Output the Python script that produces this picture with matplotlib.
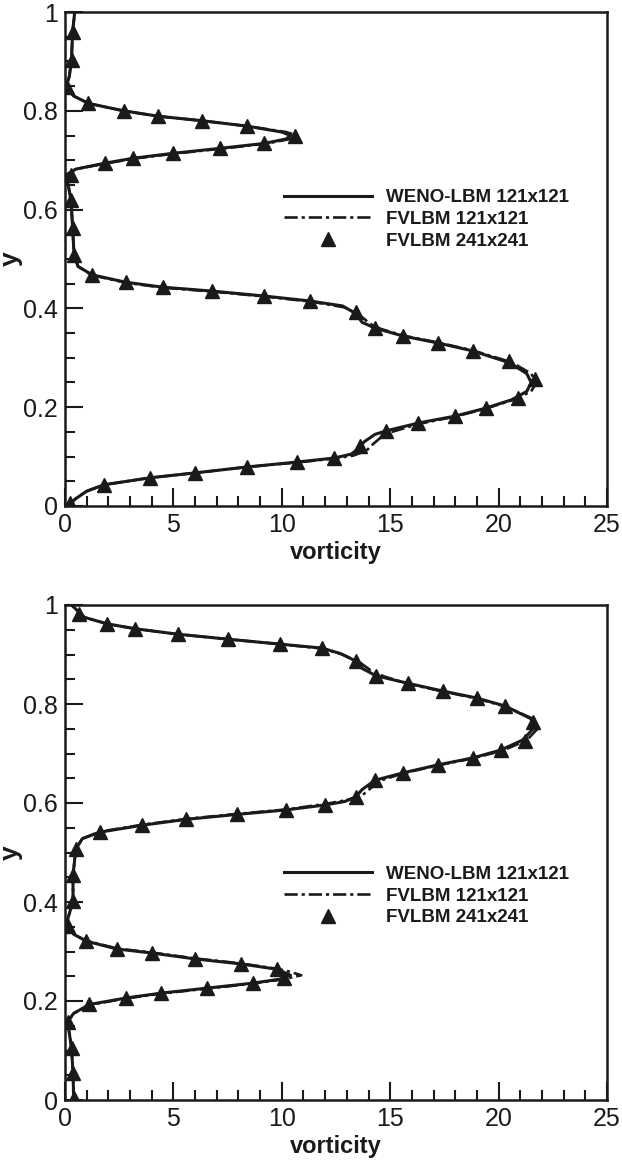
import matplotlib
matplotlib.use("Agg")
import matplotlib.pyplot as plt
from matplotlib.ticker import MultipleLocator, FixedLocator

plt.rcParams['font.family'] = ['Liberation Sans', 'DejaVu Sans']

# ---------------- top panel data (vorticity, y) ----------------
top_weno_v = [0.1, 0.5, 1.0, 1.8, 3.9, 6.0, 8.4, 10.7, 12.4, 13.2, 13.5, 13.8, 14.3, 14.8, 16.3, 18.0, 19.4,
              20.6, 21.3, 21.5, 21.3, 20.5, 18.8, 17.2, 15.6, 14.3, 13.7, 13.4, 12.8, 11.3, 9.2, 6.8, 4.5, 2.8,
              1.25, 0.6, 0.42, 0.35, 0.28, 0.1, 0.05, 0.5, 1.85, 3.15, 5.0, 7.15, 9.2, 10.2, 10.4, 10.0, 8.4,
              6.3, 4.3, 2.7, 1.08, 0.4, 0.05, 0.2, 0.3, 0.35, 0.45]
top_weno_y = [0.0, 0.015, 0.03, 0.043, 0.057, 0.067, 0.079, 0.089, 0.097, 0.105, 0.115, 0.13, 0.145, 0.152,
              0.168, 0.182, 0.198, 0.215, 0.232, 0.25, 0.268, 0.29, 0.314, 0.330, 0.344, 0.360, 0.372, 0.39,
              0.405, 0.415, 0.425, 0.435, 0.443, 0.453, 0.468, 0.485, 0.508, 0.563, 0.619, 0.66, 0.67, 0.682,
              0.694, 0.704, 0.714, 0.724, 0.734, 0.743, 0.75, 0.757, 0.769, 0.780, 0.789, 0.800, 0.815, 0.83,
              0.848, 0.87, 0.903, 0.96, 1.0]

top_fv_v = [0.1, 0.5, 1.0, 1.8, 3.9, 6.0, 8.4, 10.7, 12.4, 13.3, 13.9, 14.2, 14.6, 15.0, 16.3, 18.0, 19.4,
            20.7, 21.5, 21.75, 21.5, 20.6, 18.8, 17.2, 15.6, 14.6, 14.1, 13.6, 12.9, 11.3, 9.2, 6.8, 4.5, 2.8,
            1.25, 0.6, 0.42, 0.35, 0.28, 0.1, 0.05, 0.5, 1.85, 3.15, 5.0, 7.15, 9.2, 10.4, 10.7, 10.2, 8.4,
            6.3, 4.3, 2.7, 1.08, 0.4, 0.05, 0.2, 0.3, 0.35, 0.45]
top_fv_y = [0.0, 0.015, 0.03, 0.043, 0.057, 0.067, 0.079, 0.088, 0.096, 0.102, 0.112, 0.125, 0.14, 0.149,
            0.166, 0.181, 0.197, 0.215, 0.232, 0.25, 0.268, 0.291, 0.315, 0.331, 0.345, 0.358, 0.368, 0.386,
            0.402, 0.414, 0.424, 0.434, 0.442, 0.452, 0.467, 0.485, 0.508, 0.563, 0.619, 0.66, 0.67, 0.682,
            0.693, 0.703, 0.713, 0.723, 0.733, 0.743, 0.75, 0.757, 0.769, 0.780, 0.789, 0.800, 0.815, 0.83,
            0.848, 0.87, 0.903, 0.96, 1.0]

top_tri_v = [0.23, 1.8, 3.9, 6.0, 8.4, 10.7, 12.4, 13.6, 14.8, 16.3, 18.0, 19.4, 20.9, 21.7, 20.5, 18.8,
             17.2, 15.6, 14.3, 13.4, 11.3, 9.2, 6.8, 4.5, 2.8, 1.25, 0.42, 0.35, 0.28, 0.28, 1.85, 3.15, 5.0,
             7.15, 9.2, 10.6, 8.4, 6.3, 4.3, 2.7, 1.08, 0.1, 0.3, 0.35]
top_tri_y = [0.006, 0.043, 0.057, 0.067, 0.079, 0.089, 0.097, 0.121, 0.152, 0.168, 0.182, 0.198, 0.218,
             0.257, 0.293, 0.314, 0.330, 0.344, 0.360, 0.393, 0.415, 0.425, 0.435, 0.443, 0.453, 0.468, 0.508,
             0.563, 0.619, 0.67, 0.694, 0.704, 0.714, 0.724, 0.734, 0.749, 0.769, 0.780, 0.789, 0.800, 0.815,
             0.848, 0.903, 0.96]

# ---------------- bottom panel data (vorticity, y) ----------------
bot_weno_v = [0.4, 0.37, 0.3, 0.12, 0.4, 1.13, 2.8, 4.45, 6.55, 8.65, 9.9, 10.4, 10.0, 9.8, 8.1, 6.0, 4.0,
              2.4, 0.97, 0.4, 0.05, 0.37, 0.37, 0.5, 0.8, 1.6, 3.55, 5.6, 7.95, 10.2, 12.0, 12.9, 13.4, 13.7,
              14.3, 15.6, 17.2, 18.8, 20.1, 21.1, 21.6, 21.5, 20.3, 19.0, 17.45, 15.8, 14.35, 13.7, 13.4,
              12.7, 11.85, 9.9, 7.5, 5.2, 3.24, 1.94, 0.9, 0.3]
bot_weno_y = [0.0, 0.055, 0.105, 0.158, 0.175, 0.193, 0.206, 0.216, 0.226, 0.236, 0.244, 0.252, 0.26, 0.264,
              0.275, 0.285, 0.297, 0.305, 0.321, 0.335, 0.354, 0.402, 0.455, 0.507, 0.528, 0.541, 0.555,
              0.567, 0.577, 0.586, 0.596, 0.603, 0.612, 0.627, 0.646, 0.661, 0.677, 0.691, 0.707, 0.727,
              0.75, 0.77, 0.796, 0.812, 0.826, 0.842, 0.857, 0.872, 0.887, 0.902, 0.913, 0.921, 0.931, 0.941,
              0.952, 0.962, 0.975, 1.0]

bot_fv_v = [0.4, 0.37, 0.3, 0.12, 0.4, 1.13, 2.8, 4.45, 6.55, 8.65, 10.1, 10.9, 10.3, 9.8, 8.1, 6.0, 4.0,
            2.4, 0.97, 0.4, 0.05, 0.37, 0.37, 0.5, 0.8, 1.6, 3.55, 5.6, 7.95, 10.2, 12.0, 13.0, 13.7, 14.1,
            14.6, 15.6, 17.2, 18.8, 20.2, 21.3, 21.8, 21.6, 20.3, 19.0, 17.45, 15.8, 14.7, 14.1, 13.6,
            12.8, 11.85, 9.9, 7.5, 5.2, 3.24, 1.94, 0.9, 0.3]
bot_fv_y = [0.0, 0.055, 0.105, 0.158, 0.175, 0.192, 0.205, 0.215, 0.225, 0.235, 0.244, 0.252, 0.26, 0.265,
            0.276, 0.286, 0.298, 0.306, 0.322, 0.335, 0.354, 0.402, 0.455, 0.507, 0.528, 0.542, 0.556,
            0.568, 0.578, 0.587, 0.598, 0.606, 0.615, 0.63, 0.646, 0.66, 0.676, 0.69, 0.706, 0.727,
            0.75, 0.77, 0.795, 0.811, 0.825, 0.841, 0.856, 0.868, 0.884, 0.9, 0.912, 0.921, 0.931, 0.941,
            0.952, 0.962, 0.975, 1.0]

bot_tri_v = [0.4, 0.37, 0.3, 0.12, 1.13, 2.8, 4.45, 6.55, 8.65, 10.1, 9.8, 8.1, 6.0, 4.0, 2.4, 0.97, 0.15,
             0.37, 0.35, 0.5, 1.6, 3.55, 5.6, 7.95, 10.2, 12.0, 13.4, 14.3, 15.6, 17.2, 18.8, 20.1, 21.2,
             21.6, 20.3, 19.0, 17.45, 15.8, 14.35, 13.4, 11.85, 9.9, 7.5, 5.2, 3.24, 1.94, 0.65]
bot_tri_y = [0.004, 0.055, 0.105, 0.158, 0.193, 0.206, 0.216, 0.226, 0.236, 0.246, 0.264, 0.275, 0.285,
             0.297, 0.305, 0.321, 0.352, 0.402, 0.455, 0.507, 0.541, 0.555, 0.567, 0.577, 0.586, 0.596,
             0.612, 0.646, 0.661, 0.677, 0.691, 0.707, 0.725, 0.764, 0.796, 0.812, 0.826, 0.842, 0.857,
             0.887, 0.913, 0.921, 0.931, 0.941, 0.952, 0.962, 0.982]

labels = ["WENO-LBM 121x121", "FVLBM 121x121", "FVLBM 241x241"]
x_ticks = [0, 5, 10, 15, 20, 25]
y_ticks = [0, 0.2, 0.4, 0.6, 0.8, 1]
y_ticklabels = ["0", "0.2", "0.4", "0.6", "0.8", "1"]

fig = plt.figure(figsize=(6.22, 11.62), dpi=100)
ax_top = fig.add_axes([65/622, 1 - 506/1162, 542/622, 494/1162])
ax_bot = fig.add_axes([65/622, 1 - 1100/1162, 542/622, 495/1162])

panels = [
    (ax_top, top_weno_v, top_weno_y, top_fv_v, top_fv_y, top_tri_v, top_tri_y, 0.58),
    (ax_bot, bot_weno_v, bot_weno_y, bot_fv_v, bot_fv_y, bot_tri_v, bot_tri_y, 0.412),
]

col = '#1a1a1a'
for ax, wv, wy, fv, fy, tv, ty, leg_y in panels:
    ax.plot(wv, wy, '-', color=col, lw=2.2, label=labels[0])
    ax.plot(fv, fy, color=col, lw=1.9, dashes=[5, 1.5, 1.2, 1.5], label=labels[1])
    ax.plot(tv, ty, '^', color=col, ms=9.5, ls='none', label=labels[2])
    ax.set_xlim(0, 25)
    ax.set_ylim(0, 1)
    ax.xaxis.set_major_locator(FixedLocator(x_ticks))
    ax.xaxis.set_minor_locator(MultipleLocator(1))
    ax.yaxis.set_major_locator(FixedLocator(y_ticks))
    ax.set_yticklabels(y_ticklabels)
    ax.yaxis.set_minor_locator(MultipleLocator(0.05))
    ax.tick_params(which='both', direction='in', color=col, width=1.5)
    ax.tick_params(which='major', length=13, labelsize=18, pad=5, labelcolor=col)
    ax.tick_params(which='minor', length=7)
    for s in ax.spines.values():
        s.set_linewidth(1.8)
        s.set_color(col)
    ax.set_xlabel("vorticity", fontsize=17, fontweight='bold', labelpad=3, color=col)
    ax.set_ylabel("y", fontsize=19, fontweight='bold', labelpad=0, color=col)
    leg = ax.legend(loc='center left', bbox_to_anchor=(0.373, leg_y), frameon=False,
                    handlelength=4.7, handletextpad=0.75, labelspacing=0.25,
                    prop={'weight': 'bold', 'size': 13.5})
    for t in leg.get_texts():
        t.set_color(col)

fig.savefig("out.png", dpi=100)
